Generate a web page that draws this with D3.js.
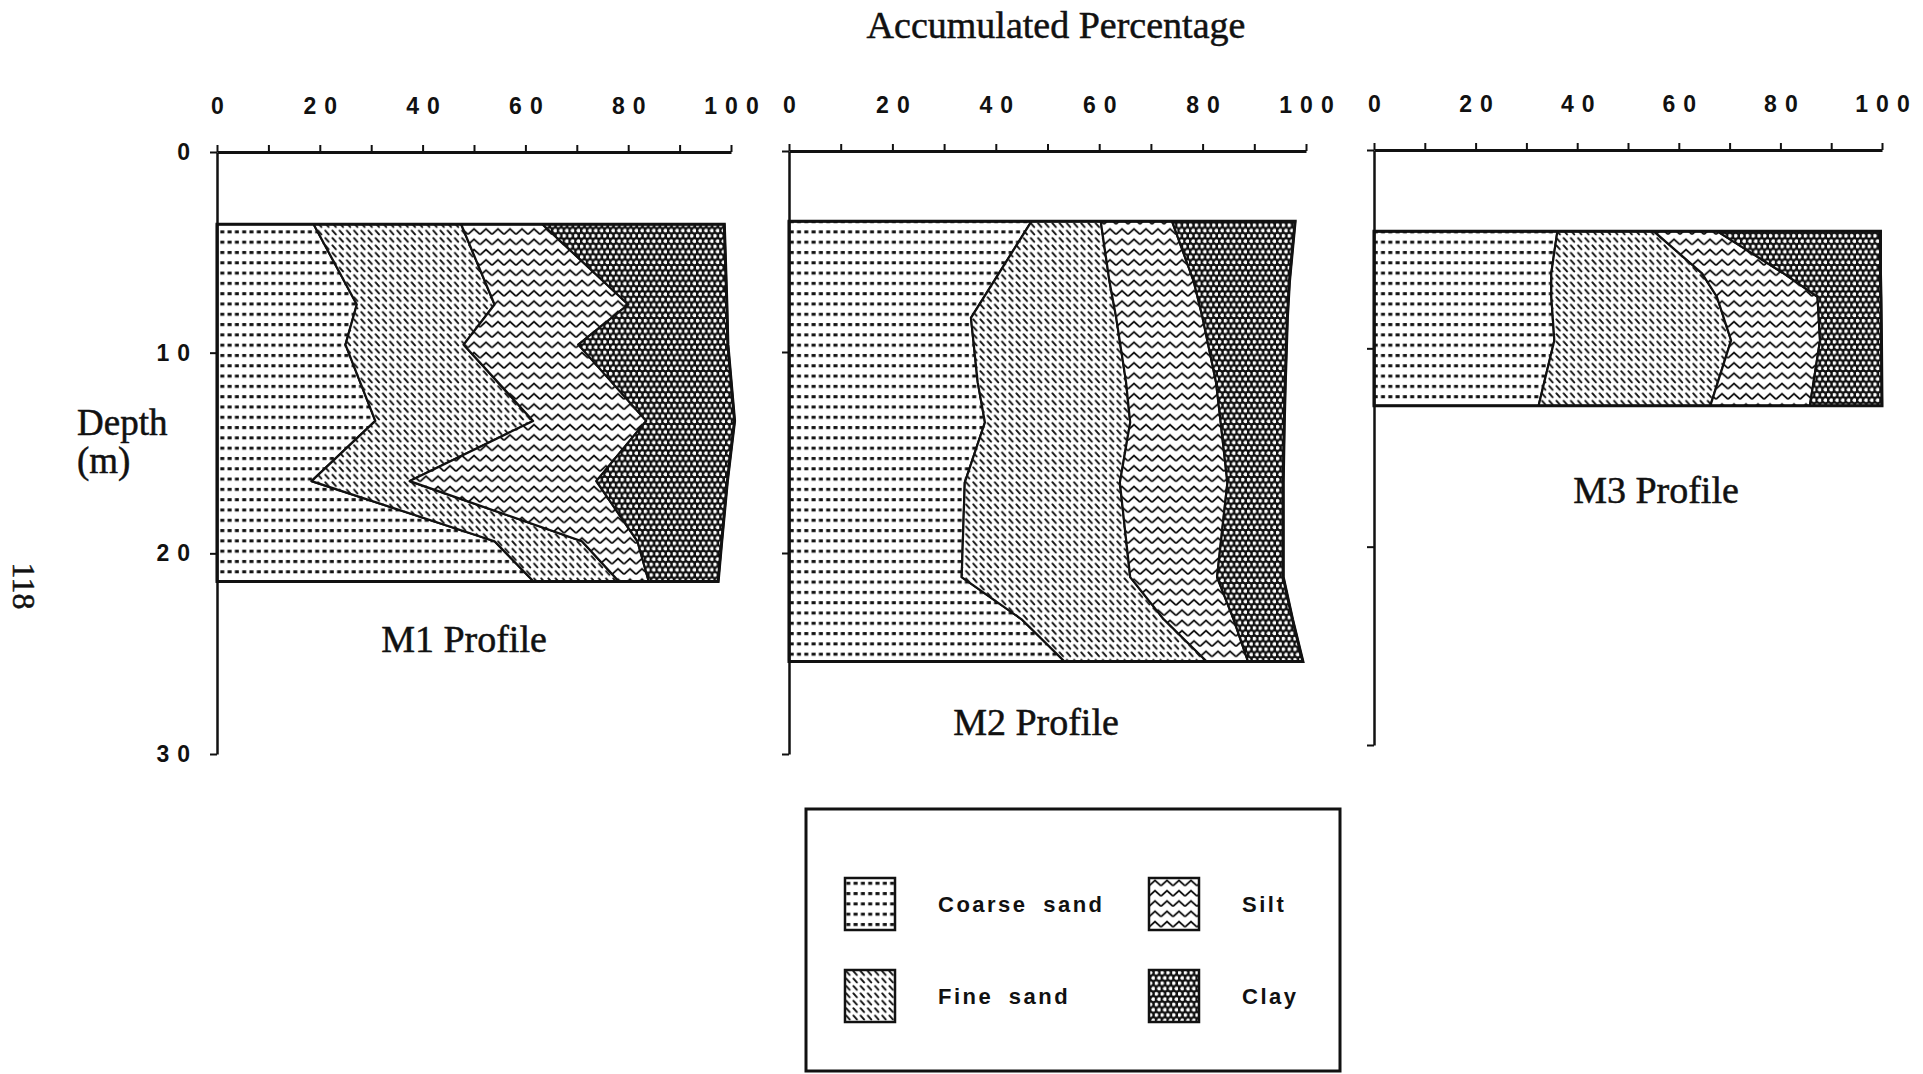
<!DOCTYPE html>
<html>
<head>
<meta charset="utf-8">
<script src="https://cdn.jsdelivr.net/npm/d3@7"></script>
<style>
    body { margin: 0; background: #fff; }
    svg { display: block; }
    .tick text {
        font-family: "Liberation Sans", Arial, sans-serif;
        font-weight: bold;
        font-size: 23px;
        letter-spacing: 8px;
        fill: #111;
    }
    .serif {
        font-family: "Liberation Serif", "Times New Roman", serif;
        fill: #111;
        stroke: #111;
        stroke-width: 0.5px;
    }
    .legend-label {
        font-family: "Liberation Sans", Arial, sans-serif;
        font-weight: bold;
        font-size: 22px;
        letter-spacing: 2.5px;
        word-spacing: 7px;
        fill: #111;
    }
</style>
</head>
<body>
<div id="chart"></div>
<script>

// fractions, in the order they are accumulated from 0 %
var categories = ["Coarse sand", "Fine sand", "Silt", "Clay"];
var keys = ["coarse", "fine", "silt", "clay"];

var profileNames = ["M1 Profile", "M2 Profile", "M3 Profile"];

// tick labels
var xTicks = [0, 10, 20, 30, 40, 50, 60, 70, 80, 90, 100];
var xLabelled = [0, 20, 40, 60, 80, 100];
var yTicks = [0, 10, 20, 30];

// M1: depth (m) and percentage of each fraction
var m1Depth  = [3.6, 7.6, 9.6, 13.4, 16.4, 19.4, 21.4];
var m1Coarse = [18.8, 27.2, 25.0, 30.8, 18.4, 54.0, 61.6];
var m1Fine   = [28.7, 26.8, 23.0, 30.7, 19.1, 17.0, 16.6];
var m1Silt   = [15.8, 26.0, 22.3, 22.0, 36.3, 10.8, 5.8];
var m1Clay   = [35.4, 19.2, 29.1, 17.2, 25.5, 16.4, 13.5];

// M2
var m2Depth  = [3.5, 6.5, 8.3, 11.5, 13.5, 16.5, 21.2, 23.3, 25.4];
var m2Coarse = [46.9, 39.6, 35.2, 36.5, 37.9, 34.0, 33.4, 45.0, 53.3];
var m2Fine   = [13.4, 22.4, 28.1, 28.7, 28.1, 30.0, 32.6, 27.5, 27.5];
var m2Silt   = [13.8, 16.3, 16.7, 17.4, 17.5, 20.8, 16.8, 13.5, 8.0];
var m2Clay   = [23.8, 18.5, 16.4, 13.4, 12.3, 10.8, 12.8, 11.4, 10.6];

// M3
var m3Depth  = [4.1, 6.2, 7.4, 9.6, 12.9];
var m3Coarse = [36.1, 34.9, 34.9, 35.5, 32.4];
var m3Fine   = [19.0, 29.6, 32.6, 34.8, 33.8];
var m3Silt   = [12.5, 16.0, 19.8, 17.5, 19.6];
var m3Clay   = [32.1, 19.2, 12.5, 12.1, 14.2];

var profiles = [
    { depth: m1Depth, coarse: m1Coarse, fine: m1Fine, silt: m1Silt, clay: m1Clay },
    { depth: m2Depth, coarse: m2Coarse, fine: m2Fine, silt: m2Silt, clay: m2Clay },
    { depth: m3Depth, coarse: m3Coarse, fine: m3Fine, silt: m3Silt, clay: m3Clay }
];

// where each panel sits on the page
var panels = [
    { left: 217, right: 731, top: 152, bottom: 754, labelX: 464, labelY: 652, yLabels: true },
    { left: 789, right: 1306, top: 151, bottom: 754, labelX: 1036, labelY: 735, yLabels: false },
    { left: 1374, right: 1882, top: 150, bottom: 745, labelX: 1656, labelY: 503, yLabels: false }
];

var width = 1923,
    height = 1074,
    ink = "#111";

var svg = d3.select("#chart").append("svg")
    .attr("width", width)
    .attr("height", height);

svg.append("rect")
    .attr("width", width)
    .attr("height", height)
    .attr("fill", "#fff");

/*
 * Fill patterns
 */
var defs = svg.append("defs");

function newPattern(id, w, h, bg) {
    var p = defs.append("pattern")
        .attr("id", "pat-" + id)
        .attr("patternUnits", "userSpaceOnUse")
        .attr("width", w)
        .attr("height", h);
    p.append("rect").attr("width", w).attr("height", h).attr("fill", bg);
    return p;
}

// coarse sand: rows of short thick dashes
var pc = newPattern("coarse", 7.3, 10.3, "#fff");
pc.append("rect").attr("x", 1.3).attr("y", 3.8).attr("width", 4).attr("height", 3).attr("fill", ink);

// fine sand: small backslash dashes
var pf = newPattern("fine", 7.2, 7.4, "#fff");
pf.append("line")
    .attr("x1", 1.3).attr("y1", 1.3).attr("x2", 4.6).attr("y2", 5.0)
    .attr("stroke", ink).attr("stroke-width", 2).attr("stroke-linecap", "round");

// silt: zigzag rows
var ps = newPattern("silt", 12, 10.3, "#fff");
ps.append("path")
    .attr("d", "M0,7.8 L6,2.4 L12,7.8")
    .attr("fill", "none").attr("stroke", ink).attr("stroke-width", 2);

// clay: dark ground with white dots
var pk = newPattern("clay", 5.8, 10.6, ink);
pk.append("circle").attr("cx", 1.45).attr("cy", 2.65).attr("r", 2).attr("fill", "#fff");
pk.append("circle").attr("cx", 4.35).attr("cy", 7.95).attr("r", 2).attr("fill", "#fff");

/*
 * Profiles
 */
profiles.forEach(function(prof, i) {
    var lay = panels[i];
    var g = svg.append("g").attr("class", "panel");

    var x = d3.scaleLinear().domain([0, 100]).range([lay.left, lay.right]);
    var y = d3.scaleLinear().domain([0, 30]).range([lay.top, lay.bottom]);

    var rows = prof.depth.map(function(d, j) {
        return { depth: d, coarse: prof.coarse[j], fine: prof.fine[j], silt: prof.silt[j], clay: prof.clay[j] };
    });

    var series = d3.stack().keys(keys)(rows);

    var area = d3.area()
        .y(function(d) { return y(d.data.depth); })
        .x0(function(d) { return x(d[0]); })
        .x1(function(d) { return x(d[1]); });

    g.selectAll(".layer")
        .data(series)
        .enter().append("path")
        .attr("class", "layer")
        .attr("d", area)
        .attr("fill", function(d) { return "url(#pat-" + d.key + ")"; })
        .attr("stroke", ink)
        .attr("stroke-width", 2.2)
        .attr("stroke-linejoin", "round");

    // heavier outline round the whole block
    var outline = d3.area()
        .y(function(d) { return y(d.data.depth); })
        .x0(x(0))
        .x1(function(d) { return x(d[1]); });

    g.append("path")
        .datum(series[series.length - 1])
        .attr("d", outline)
        .attr("fill", "none")
        .attr("stroke", ink)
        .attr("stroke-width", 3);

    // percentage axis along the top
    var xAxis = d3.axisTop(x)
        .tickValues(xTicks)
        .tickSize(7)
        .tickSizeOuter(0)
        .tickPadding(31)
        .tickFormat(function(d) { return xLabelled.indexOf(d) >= 0 ? d : ""; });

    var gx = g.append("g")
        .attr("transform", "translate(0," + lay.top + ")")
        .call(xAxis);
    gx.select(".domain").attr("stroke", ink).attr("stroke-width", 2.8);
    gx.selectAll(".tick line").attr("stroke", ink).attr("stroke-width", 2);
    gx.selectAll(".tick text").attr("dx", 4);

    // depth axis
    var yAxis = d3.axisLeft(y)
        .tickValues(yTicks)
        .tickSize(7)
        .tickSizeOuter(0)
        .tickPadding(12)
        .tickFormat(function(d) { return lay.yLabels ? d : ""; });

    var gy = g.append("g")
        .attr("transform", "translate(" + lay.left + ",0)")
        .call(yAxis);
    gy.select(".domain").attr("stroke", ink).attr("stroke-width", 2.5);
    gy.selectAll(".tick line").attr("stroke", ink).attr("stroke-width", 2);

    g.append("text")
        .attr("class", "serif")
        .attr("x", lay.labelX)
        .attr("y", lay.labelY)
        .attr("text-anchor", "middle")
        .style("font-size", "38px")
        .text(profileNames[i]);
});

/*
 * Titles
 */
svg.append("text")
    .attr("class", "serif")
    .attr("x", 1056)
    .attr("y", 38)
    .attr("text-anchor", "middle")
    .style("font-size", "38px")
    .text("Accumulated Percentage");

svg.append("text")
    .attr("class", "serif")
    .attr("x", 77)
    .attr("y", 435)
    .style("font-size", "37px")
    .text("Depth");

svg.append("text")
    .attr("class", "serif")
    .attr("x", 77)
    .attr("y", 473)
    .style("font-size", "37px")
    .text("(m)");

svg.append("text")
    .attr("class", "serif")
    .attr("transform", "translate(24,586) rotate(90)")
    .attr("text-anchor", "middle")
    .attr("dominant-baseline", "central")
    .style("font-size", "32px")
    .text("118");

/*
 * Legend
 */
var legend = svg.append("g").attr("class", "legend");

legend.append("rect")
    .attr("x", 806)
    .attr("y", 809)
    .attr("width", 534)
    .attr("height", 262)
    .attr("fill", "none")
    .attr("stroke", ink)
    .attr("stroke-width", 3);

var item = legend.selectAll(".item")
    .data(categories)
    .enter().append("g")
    .attr("class", "item")
    .attr("transform", function(d, i) {
        return "translate(" + (845 + Math.floor(i / 2) * 304) + "," + (878 + (i % 2) * 92) + ")";
    });

item.append("rect")
    .attr("width", 50)
    .attr("height", 52)
    .attr("fill", function(d, i) { return "url(#pat-" + keys[i] + ")"; })
    .attr("stroke", ink)
    .attr("stroke-width", 2.5);

item.append("text")
    .attr("class", "legend-label")
    .attr("x", 93)
    .attr("y", 34)
    .text(function(d) { return d; });

</script>
</body>
</html>
